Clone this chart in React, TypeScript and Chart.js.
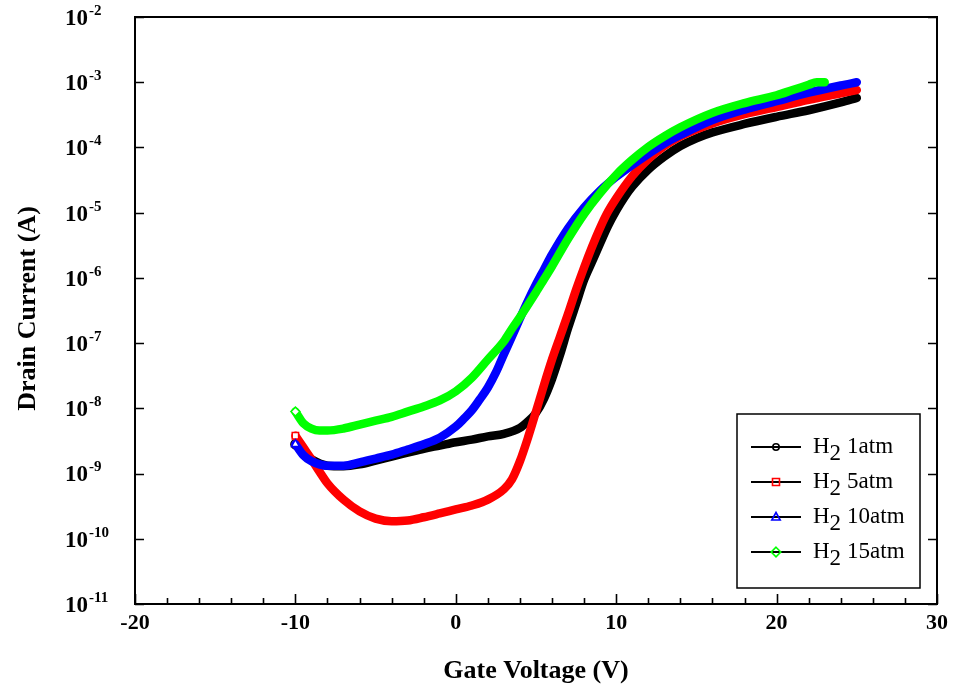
import React, { useEffect, useRef } from 'react';
import { Chart, registerables } from 'chart.js';

Chart.register(...registerables);

// Gate voltage (V) and drain current (A) for each H2 pressure
const VG_1ATM = [-10, -9.5, -9, -8, -7, -6, -5, -4, -3, -2, -1, 0, 1, 2, 3, 4, 4.5, 5, 5.5, 6, 6.5, 7, 7.5, 8, 8.5, 9, 9.5, 10, 10.5, 11, 12, 13, 14, 15, 16, 18, 20, 22, 24, 25];
const ID_1ATM = [2.82e-9, 2.04e-9, 1.66e-9, 1.32e-9, 1.29e-9, 1.38e-9, 1.58e-9, 1.82e-9, 2.09e-9, 2.4e-9, 2.69e-9, 3.02e-9, 3.31e-9, 3.72e-9, 4.07e-9, 5.01e-9, 6.31e-9, 8.51e-9, 1.41e-8, 2.82e-8, 6.61e-8, 1.7e-7, 3.98e-7, 9.33e-7, 1.78e-6, 3.39e-6, 6.31e-6, 1.07e-5, 1.7e-5, 2.51e-5, 4.57e-5, 7.24e-5, 1.05e-4, 1.38e-4, 1.7e-4, 2.29e-4, 2.95e-4, 3.72e-4, 4.9e-4, 5.75e-4];

const VG_5ATM = [-10, -9.5, -9, -8.5, -8, -7, -6, -5, -4, -3, -2, -1, 0, 1, 2, 3, 3.5, 4, 4.5, 5, 5.5, 6, 6.5, 7, 7.5, 8, 8.5, 9, 9.5, 10, 11, 12, 13, 14, 16, 18, 20, 22, 24, 25];
const ID_5ATM = [3.8e-9, 2.51e-9, 1.66e-9, 1.07e-9, 7.08e-10, 3.98e-10, 2.63e-10, 2.04e-10, 1.86e-10, 1.91e-10, 2.14e-10, 2.45e-10, 2.82e-10, 3.24e-10, 3.98e-10, 5.75e-10, 8.13e-10, 1.55e-9, 3.55e-9, 8.91e-9, 2.29e-8, 5.62e-8, 1.26e-7, 2.82e-7, 6.61e-7, 1.45e-6, 3.02e-6, 5.89e-6, 1.05e-5, 1.66e-5, 3.63e-5, 6.61e-5, 1.05e-4, 1.48e-4, 2.34e-4, 3.24e-4, 4.17e-4, 5.37e-4, 6.76e-4, 7.59e-4];

const VG_10ATM = [-10, -9.5, -9, -8, -7, -6, -5, -4, -3, -2, -1, 0, 0.5, 1, 1.5, 2, 2.5, 3, 3.5, 4, 4.5, 5, 5.5, 6, 7, 8, 9, 10, 11, 12, 13, 14, 16, 18, 20, 22, 24, 25];
const ID_10ATM = [2.82e-9, 1.91e-9, 1.55e-9, 1.32e-9, 1.32e-9, 1.48e-9, 1.7e-9, 1.95e-9, 2.34e-9, 2.82e-9, 3.55e-9, 5.25e-9, 6.92e-9, 9.33e-9, 1.38e-8, 2.09e-8, 3.55e-8, 6.76e-8, 1.26e-7, 2.4e-7, 4.47e-7, 7.94e-7, 1.35e-6, 2.29e-6, 5.75e-6, 1.2e-5, 2.19e-5, 3.55e-5, 5.37e-5, 7.94e-5, 1.15e-4, 1.55e-4, 2.63e-4, 3.8e-4, 5.13e-4, 6.92e-4, 8.91e-4, 1.0e-3];

const VG_15ATM = [-10, -9.5, -9, -8.5, -8, -7, -6, -5, -4, -3, -2, -1, 0, 1, 2, 3, 3.5, 4, 5, 5.5, 6, 7, 8, 9, 10, 11, 12, 13, 14, 16, 18, 20, 21, 22, 22.5, 23];
const ID_15ATM = [8.91e-9, 5.89e-9, 4.9e-9, 4.57e-9, 4.57e-9, 4.9e-9, 5.62e-9, 6.46e-9, 7.41e-9, 8.91e-9, 1.07e-8, 1.32e-8, 1.82e-8, 2.95e-8, 5.62e-8, 1.07e-7, 1.66e-7, 2.51e-7, 6.03e-7, 9.55e-7, 1.51e-6, 3.98e-6, 9.55e-6, 2.0e-5, 3.8e-5, 6.46e-5, 1.02e-4, 1.48e-4, 2.04e-4, 3.39e-4, 4.79e-4, 6.31e-4, 7.59e-4, 9.12e-4, 1.0e-3, 1.0e-3];

const SERIES_NAMES = ['1atm', '5atm', '10atm', '15atm'];
const SERIES_COLORS = ['#000000', '#ff0000', '#0000ff', '#00ff00'];
const X_TICK_LABELS = [-20, -10, 0, 10, 20, 30];
const Y_EXPONENTS = [-2, -3, -4, -5, -6, -7, -8, -9, -10, -11];
const X_TITLE = 'Gate Voltage (V)';
const Y_TITLE = 'Drain Current (A)';

const FONT = '"Liberation Serif", "Times New Roman", Times, serif';

function drawMarker(ctx: CanvasRenderingContext2D, kind: number, x: number, y: number, color: string) {
  ctx.save();
  ctx.strokeStyle = color;
  ctx.lineWidth = 1.6;
  ctx.beginPath();
  if (kind === 0) {
    ctx.arc(x, y, 3.2, 0, Math.PI * 2);
  } else if (kind === 1) {
    ctx.rect(x - 3.5, y - 3.5, 7, 7);
  } else if (kind === 2) {
    ctx.moveTo(x, y - 4.5);
    ctx.lineTo(x + 4.2, y + 3);
    ctx.lineTo(x - 4.2, y + 3);
    ctx.closePath();
  } else {
    ctx.moveTo(x, y - 4.8);
    ctx.lineTo(x + 4.8, y);
    ctx.lineTo(x, y + 4.8);
    ctx.lineTo(x - 4.8, y);
    ctx.closePath();
  }
  ctx.stroke();
  ctx.restore();
}

export default function App() {
  const ref = useRef<HTMLCanvasElement>(null);

  useEffect(() => {
    document.body.style.margin = '0';
    document.body.style.overflow = 'hidden';
    const canvas = ref.current;
    if (!canvas) return;

    const toPts = (xs: number[], ys: number[]) => xs.map((x, i) => ({ x, y: ys[i] }));
    const allX = [VG_1ATM, VG_5ATM, VG_10ATM, VG_15ATM];
    const allY = [ID_1ATM, ID_5ATM, ID_10ATM, ID_15ATM];

    const overlay = {
      id: 'overlay',
      afterDraw(chart: any) {
        const ctx: CanvasRenderingContext2D = chart.ctx;
        const { left, right, top, bottom } = chart.chartArea;
        const xs = chart.scales.x;
        const ys = chart.scales.y;
        ctx.save();
        ctx.strokeStyle = '#000';
        ctx.fillStyle = '#000';

        // ticks
        ctx.lineWidth = 1.6;
        ctx.beginPath();
        for (let v = -20; v <= 30; v += 2) {
          const px = Math.round(xs.getPixelForValue(v)) + 0.5;
          const len = v % 10 === 0 ? 10 : 6;
          ctx.moveTo(px, bottom);
          ctx.lineTo(px, bottom - len);
        }
        for (const e of Y_EXPONENTS) {
          const py = Math.round(ys.getPixelForValue(Math.pow(10, e))) + 0.5;
          ctx.moveTo(left, py);
          ctx.lineTo(left + 9, py);
          ctx.moveTo(right, py);
          ctx.lineTo(right - 9, py);
        }
        ctx.stroke();

        // frame
        ctx.lineWidth = 2;
        ctx.strokeRect(left, top, right - left, bottom - top);

        // x tick labels
        ctx.font = `bold 22px ${FONT}`;
        ctx.textAlign = 'center';
        ctx.textBaseline = 'middle';
        for (const v of X_TICK_LABELS) {
          ctx.fillText(String(v), xs.getPixelForValue(v), bottom + 19);
        }

        // y tick labels with superscript exponents
        for (const e of Y_EXPONENTS) {
          const py = ys.getPixelForValue(Math.pow(10, e));
          ctx.font = `bold 23px ${FONT}`;
          ctx.textAlign = 'left';
          ctx.textBaseline = 'middle';
          ctx.fillText('10', 65, py + 2);
          const w = ctx.measureText('10').width;
          ctx.font = `bold 15px ${FONT}`;
          ctx.fillText(String(e), 65 + w + 1, py - 6);
        }

        // axis titles
        ctx.font = `bold 26px ${FONT}`;
        ctx.textAlign = 'center';
        ctx.textBaseline = 'middle';
        ctx.fillText(X_TITLE, (left + right) / 2, 671);
        ctx.save();
        ctx.translate(28, (top + bottom) / 2 - 2);
        ctx.rotate(-Math.PI / 2);
        ctx.fillText(Y_TITLE, 0, 0);
        ctx.restore();

        // legend
        ctx.fillStyle = '#fff';
        ctx.fillRect(737, 414, 183, 174);
        ctx.lineWidth = 1.5;
        ctx.strokeStyle = '#000';
        ctx.strokeRect(737, 414, 183, 174);
        ctx.fillStyle = '#000';
        SERIES_NAMES.forEach((name, i) => {
          const y = 447 + i * 35;
          ctx.lineWidth = 2;
          ctx.strokeStyle = '#000';
          ctx.beginPath();
          ctx.moveTo(751, y);
          ctx.lineTo(801, y);
          ctx.stroke();
          drawMarker(ctx, i, 776, y, SERIES_COLORS[i]);
          ctx.font = `23px ${FONT}`;
          ctx.textAlign = 'left';
          ctx.textBaseline = 'alphabetic';
          let x = 813;
          ctx.fillText('H', x, y + 6);
          x += ctx.measureText('H').width;
          ctx.fillText('2', x, y + 13);
          x += ctx.measureText('2').width + 6;
          ctx.fillText(name, x, y + 6);
        });
        ctx.restore();
      },
    };

    const datasets = SERIES_NAMES.map((name, i) => ({
      label: 'H2 ' + name,
      data: toPts(allX[i], allY[i]),
      borderColor: SERIES_COLORS[i],
      backgroundColor: SERIES_COLORS[i],
      borderWidth: 8.5,
      borderCapStyle: 'round' as const,
      borderJoinStyle: 'round' as const,
      cubicInterpolationMode: 'monotone' as const,
      pointRadius: (c: any) => (c.dataIndex === 0 ? 4.5 : 0),
      pointStyle: (['circle', 'rect', 'triangle', 'rectRot'] as const)[i],
      pointBackgroundColor: '#ffffff',
      pointBorderColor: SERIES_COLORS[i],
      pointBorderWidth: 1.5,
      fill: false,
      order: 3 - i,
    }));

    const chart = new Chart(canvas, {
      type: 'line',
      data: { datasets },
      options: {
        responsive: false,
        animation: false,
        devicePixelRatio: 1,
        layout: { padding: { top: 17, right: 16, left: 0, bottom: 0 } },
        plugins: { legend: { display: false }, tooltip: { enabled: false } },
        scales: {
          x: {
            type: 'linear',
            min: -20,
            max: 30,
            grid: { display: false },
            border: { display: false },
            ticks: { display: false },
            afterFit: (s: any) => { s.height = 90; },
          },
          y: {
            type: 'logarithmic',
            min: 1e-11,
            max: 1e-2,
            grid: { display: false },
            border: { display: false },
            ticks: { display: false },
            afterFit: (s: any) => { s.width = 135; },
          },
        },
      },
      plugins: [overlay],
    });

    return () => chart.destroy();
  }, []);

  return (
    <canvas
      ref={ref}
      width={953}
      height={694}
      style={{ display: 'block', width: '953px', height: '694px' }}
    />
  );
}
